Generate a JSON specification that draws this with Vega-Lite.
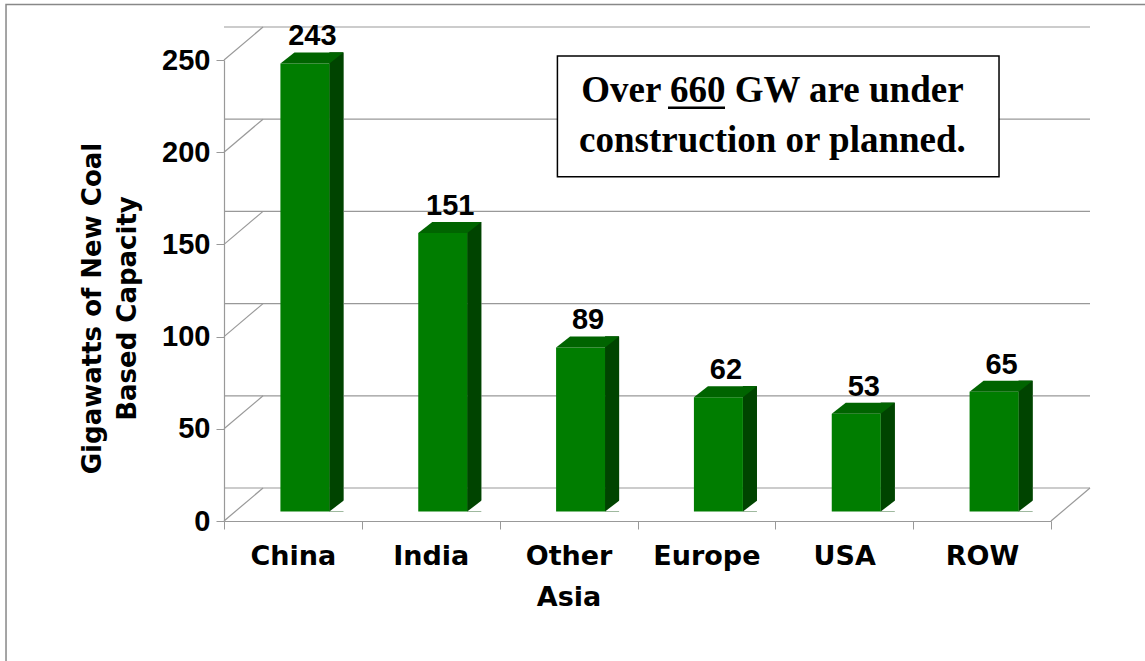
{
  "$schema": "https://vega.github.io/schema/vega-lite/v6.json",
  "autosize": {"type": "none"},
  "width": 827,
  "height": 461,
  "padding": {"left": 224, "top": 60, "right": 94, "bottom": 140},
  "background": "white",
  "config": {
    "view": {"stroke": null},
    "axisX": {
      "labelAngle": 0,
      "labelFont": "DejaVu Sans",
      "labelFontSize": 27,
      "labelFontWeight": "bold",
      "labelColor": "black",
      "labelPadding": 14,
      "labelLineHeight": 41,
      "tickBand": "extent",
      "tickSize": 8,
      "tickColor": "#999999",
      "domainColor": "#999999",
      "domainWidth": 1.2,
      "grid": false
    },
    "axisY": {
      "grid": false,
      "labelFont": "Liberation Sans",
      "labelFontSize": 29,
      "labelFontWeight": "bold",
      "labelColor": "black",
      "labelPadding": 6,
      "tickSize": 8,
      "tickColor": "#999999",
      "domainColor": "#999999",
      "domainWidth": 1.2,
      "titleFont": "DejaVu Sans",
      "titleFontSize": 26,
      "titleFontWeight": "bold",
      "titleColor": "black",
      "titleLineHeight": 35,
      "titleBaseline": "alphabetic",
      "titleX": -124,
      "titleY": 248
    }
  },
  "datasets": {
    "coal": [
      {"region": "China", "gw": 243},
      {"region": "India", "gw": 151},
      {"region": "Other Asia", "gw": 89},
      {"region": "Europe", "gw": 62},
      {"region": "USA", "gw": 53},
      {"region": "ROW", "gw": 65}
    ],
    "ticks": [{"v": 0}, {"v": 50}, {"v": 100}, {"v": 150}, {"v": 200}, {"v": 250}],
    "note": [{"text": "Over 660 GW are under construction or planned."}]
  },
  "layer": [
    {
      "data": {"name": "coal"},
      "mark": {"type": "bar", "width": 14, "xOffset": 43.5, "yOffset": -20.5, "y2Offset": -9.5, "fill": "#004400"},
      "encoding": {
        "x": {
          "field": "region", "type": "nominal",
          "scale": {"domain": ["China", "India", "Other Asia", "Europe", "USA", "ROW"], "paddingInner": 0, "paddingOuter": 0},
          "axis": {
            "title": null,
            "labelExpr": "datum.label == 'Other Asia' ? ['Other', 'Asia'] : datum.label"
          }
        },
        "y": {
          "field": "gw", "type": "quantitative",
          "scale": {"domain": [0, 250], "nice": false, "zero": true},
          "axis": {
            "title": ["Gigawatts of New  Coal", "Based Capacity"],
            "values": [0, 50, 100, 150, 200, 250]
          }
        },
        "y2": {"datum": 0}
      }
    },
    {
      "data": {"name": "note"},
      "mark": {"type": "point", "shape": "M-286.9,140L-286.9,-516.5L852.1,-516.5", "size": 4, "filled": false, "stroke": "#888888", "strokeWidth": 1.5, "opacity": 1},
      "encoding": {
        "x": {"datum": "China", "type": "nominal"},
        "y": {"datum": 0, "type": "quantitative"}
      }
    },
    {
      "data": {"name": "ticks"},
      "mark": {"type": "rule", "xOffset": 39, "x2Offset": 39, "yOffset": -33, "color": "#999999", "strokeWidth": 1.2},
      "encoding": {
        "y": {"field": "v", "type": "quantitative"}
      }
    },
    {
      "data": {"name": "ticks"},
      "mark": {"type": "point", "shape": "M-68.9,0L-29.9,-33", "size": 4, "filled": false, "stroke": "#999999", "strokeWidth": 1.2, "opacity": 1},
      "encoding": {
        "x": {"datum": "China", "type": "nominal"},
        "y": {"field": "v", "type": "quantitative"}
      }
    },
    {
      "data": {"name": "note"},
      "mark": {"type": "point", "shape": "M68.9,0L107.9,-33", "size": 4, "filled": false, "stroke": "#999999", "strokeWidth": 1.2, "opacity": 1},
      "encoding": {
        "x": {"datum": "ROW", "type": "nominal"},
        "y": {"datum": 0, "type": "quantitative"}
      }
    },
    {
      "data": {"name": "coal"},
      "mark": {"type": "bar", "width": 14, "xOffset": 43.5, "yOffset": -20.5, "y2Offset": -9.5, "fill": "#004400"},
      "encoding": {
        "x": {"field": "region", "type": "nominal"},
        "y": {"field": "gw", "type": "quantitative"},
        "y2": {"datum": 0}
      }
    },
    {
      "data": {"name": "coal"},
      "mark": {"type": "point", "shape": "M36.5,-9.5L51.5,-9.5L51.5,-21Z", "size": 4, "filled": true, "fill": "white", "stroke": null, "opacity": 1},
      "encoding": {
        "x": {"field": "region", "type": "nominal"},
        "y": {"datum": 0, "type": "quantitative"}
      }
    },
    {
      "data": {"name": "coal"},
      "mark": {"type": "bar", "width": 49, "xOffset": 12, "yOffset": -9.5, "y2Offset": -9.5, "fill": "#007d00"},
      "encoding": {
        "x": {"field": "region", "type": "nominal"},
        "y": {"field": "gw", "type": "quantitative"},
        "y2": {"datum": 0}
      }
    },
    {
      "data": {"name": "coal"},
      "mark": {"type": "point", "shape": "M-12.5,-9.5L36.5,-9.5L50.5,-20.5L1.5,-20.5Z", "size": 4, "filled": true, "fill": "#006400", "stroke": null, "opacity": 1},
      "encoding": {
        "x": {"field": "region", "type": "nominal"},
        "y": {"field": "gw", "type": "quantitative"}
      }
    },
    {
      "data": {"name": "coal"},
      "mark": {"type": "text", "font": "Liberation Sans", "fontSize": 29, "fontWeight": "bold", "color": "black", "dx": 19.5, "dy": -27.5, "baseline": "alphabetic", "align": "center"},
      "encoding": {
        "x": {"field": "region", "type": "nominal"},
        "y": {"field": "gw", "type": "quantitative"},
        "text": {"field": "gw", "type": "quantitative"}
      }
    },
    {
      "data": {"name": "note"},
      "mark": {"type": "point", "shape": "M-149,-45.7L292.6,-45.7L292.6,75L-149,75Z", "size": 4, "filled": true, "fill": "white", "stroke": "black", "strokeWidth": 1.5, "opacity": 1},
      "encoding": {
        "x": {"datum": "Europe", "type": "nominal"},
        "y": {"datum": 227.4, "type": "quantitative"}
      }
    },
    {
      "data": {"name": "note"},
      "mark": {"type": "text", "text": ["Over 660 GW are under", "construction or planned."], "font": "Liberation Serif", "fontSize": 37, "fontWeight": "bold", "color": "black", "lineHeight": 50, "align": "center", "baseline": "alphabetic", "dx": 66},
      "encoding": {
        "x": {"datum": "Europe", "type": "nominal"},
        "y": {"datum": 227.4, "type": "quantitative"}
      }
    },
    {
      "data": {"name": "note"},
      "mark": {"type": "point", "shape": "M-38.4,6L18.6,6", "size": 4, "filled": false, "stroke": "black", "strokeWidth": 2.5, "opacity": 1},
      "encoding": {
        "x": {"datum": "Europe", "type": "nominal"},
        "y": {"datum": 227.4, "type": "quantitative"}
      }
    }
  ]
}
